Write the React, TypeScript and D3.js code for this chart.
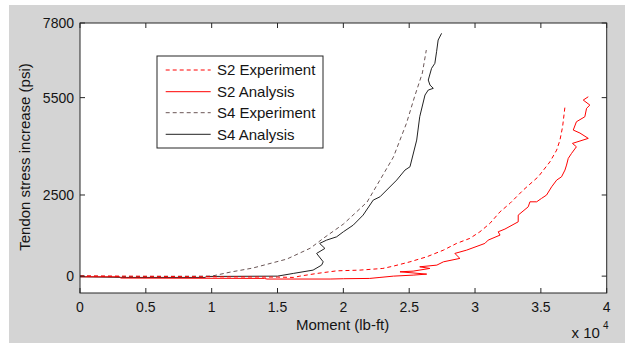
import React from "react";
import * as d3 from "d3";

// Moment in lb-ft, stress increase in psi
const s2ExpMoment = [0, 3000, 10000, 15000, 16200, 16700, 18000, 19500, 21260, 23000, 23800, 25060, 26330, 27600, 28600, 29600, 30370, 31130, 31900, 32650, 33660, 34800, 35690, 36200, 36450, 36650, 36830];
const s2ExpStress = [10, 0, -20, -30, -40, 0, 83, 163, 185, 237, 308, 441, 595, 801, 1008, 1162, 1366, 1625, 1982, 2241, 2651, 3061, 3523, 3884, 4192, 4602, 5219];

const s2AnaMoment = [0, 3000, 3100, 14000, 14200, 19000, 20000, 22000, 22780, 23800, 25300, 26330, 24300, 25300, 26570, 25800, 27100, 27600, 28850, 28470, 29360, 30750, 31000, 31900, 31760, 32270, 33280, 33280, 34040, 34170, 34680, 35050, 35430, 35820, 36200, 36570, 36830, 36950, 37080, 37330, 37700, 37400, 38600, 37970, 37460, 37700, 38340, 38470, 38720, 38220, 38600];
const s2AnaStress = [-20, -20, -60, -70, -90, -90, -80, -71, -40, 0, 31, 62, 133, 154, 237, 287, 339, 441, 546, 700, 801, 1008, 1110, 1264, 1366, 1450, 1674, 1880, 2136, 2290, 2290, 2395, 2497, 2753, 2959, 3061, 3268, 3422, 3628, 3782, 3986, 4090, 4245, 4408, 4501, 4757, 4911, 5170, 5271, 5425, 5527];

const s4ExpMoment = [0, 3000, 10000, 11400, 13100, 15700, 17500, 18500, 20000, 21800, 23800, 24800, 25400, 26000, 26300];
const s4ExpStress = [0, -10, 0, 123, 247, 524, 863, 1171, 1603, 2281, 3668, 4716, 5518, 6258, 6967];

const s4AnaMoment = [0, 3500, 9500, 9600, 15000, 16200, 17700, 18350, 18470, 17970, 18600, 18200, 18730, 19490, 20000, 20750, 21500, 22270, 22780, 24050, 24680, 25060, 25570, 25800, 26200, 26450, 26830, 26580, 26450, 26700, 26950, 27080, 27200, 27460];
const s4AnaStress = [-20, -40, -40, -10, 0, 83, 185, 339, 441, 700, 854, 1008, 1110, 1211, 1366, 1572, 1880, 2343, 2444, 2959, 3268, 3369, 4192, 4911, 5580, 5734, 5786, 5888, 6042, 6403, 6557, 6914, 7275, 7481];

const xTicks = [0, 5000, 10000, 15000, 20000, 25000, 30000, 35000, 40000];
const yTicks = [0, 2500, 5500, 7800];

const seriesNames = ["S2 Experiment", "S2 Analysis", "S4 Experiment", "S4 Analysis"];
const seriesColors = ["#ff0000", "#ff0000", "#6a5656", "#222222"];
const seriesDash = ["4,3", null, "4,3", null];

const W = 627;
const H = 343;
const L = 80, R = 606.7, T = 23, B = 293;
const FONT = "Arial, 'Liberation Sans', sans-serif";

export default function App() {
  const x = d3.scaleLinear().domain([0, 40000]).range([L, R]);
  const y = d3.scaleLinear().domain([-520, 7800]).range([B, T]);

  const mk = (ms: number[], ss: number[]) =>
    d3.line<number>().x((_, i) => x(ms[i])).y((_, i) => y(ss[i]))(ms.map((_, i) => i)) || "";

  const paths = [
    mk(s2ExpMoment, s2ExpStress),
    mk(s2AnaMoment, s2AnaStress),
    mk(s4ExpMoment, s4ExpStress),
    mk(s4AnaMoment, s4AnaStress),
  ];

  const axisColor = "#262626";
  const txt = "#151515";
  const fmtX = (v: number) => d3.format("~g")(v / 10000);

  const legX = 157, legY = 56, legW = 166, legH = 92;
  const rowY = [70, 91.7, 112.7, 134.3];

  return (
    <svg width={W} height={H} style={{ position: "absolute", left: 0, top: 0 }} fontFamily={FONT}>
      <rect x={0} y={0} width={W} height={H} fill="#ffffff" />
      <rect x={9} y={5} width={616} height={H - 5} fill="#d4d4d4" />
      <rect x={L} y={T} width={R - L} height={B - T} fill="#ffffff" />
      <defs>
        <clipPath id="plotclip">
          <rect x={L} y={T} width={R - L} height={B - T} />
        </clipPath>
      </defs>
      <g clipPath="url(#plotclip)" fill="none">
        {[2, 3, 0, 1].map((i) => (
          <path key={i} d={paths[i]} stroke={seriesColors[i]} strokeWidth={1}
            strokeDasharray={seriesDash[i] || undefined} strokeLinejoin="round" />
        ))}
      </g>
      {/* axes box */}
      <rect x={L} y={T} width={R - L} height={B - T} fill="none" stroke={axisColor} strokeWidth={1} />
      {xTicks.map((t) => (
        <g key={"xt" + t}>
          <line x1={x(t)} x2={x(t)} y1={B} y2={B - 5} stroke={axisColor} />
          <line x1={x(t)} x2={x(t)} y1={T} y2={T + 5} stroke={axisColor} />
          <text x={x(t)} y={312} textAnchor="middle" fontSize={14} fill={txt}>{fmtX(t)}</text>
        </g>
      ))}
      {yTicks.map((t) => (
        <g key={"yt" + t}>
          <line x1={L} x2={L + 5} y1={y(t)} y2={y(t)} stroke={axisColor} />
          <line x1={R} x2={R - 5} y1={y(t)} y2={y(t)} stroke={axisColor} />
          <text x={74} y={y(t)} dy="0.36em" textAnchor="end" fontSize={14} fill={txt}>{t}</text>
        </g>
      ))}
      <text x={342.6} y={330} textAnchor="middle" fontSize={15} fill={txt}>Moment (lb-ft)</text>
      <text x={571.5} y={338} fontSize={15} fill={txt}>x 10</text>
      <text x={603} y={329} fontSize={10} fill={txt}>4</text>
      <text transform={`translate(30,157) rotate(-90)`} textAnchor="middle" fontSize={15} fill={txt}>
        Tendon stress increase (psi)
      </text>
      {/* legend */}
      <rect x={legX} y={legY} width={legW} height={legH} fill="#ffffff" stroke={axisColor} strokeWidth={1} />
      {seriesNames.map((n, i) => (
        <g key={n}>
          <line x1={165.7} x2={210.7} y1={rowY[i]} y2={rowY[i]} stroke={seriesColors[i]}
            strokeDasharray={seriesDash[i] || undefined} strokeWidth={1} />
          <text x={217} y={rowY[i]} dy="0.36em" fontSize={15} fill={txt}>{n}</text>
        </g>
      ))}
    </svg>
  );
}
